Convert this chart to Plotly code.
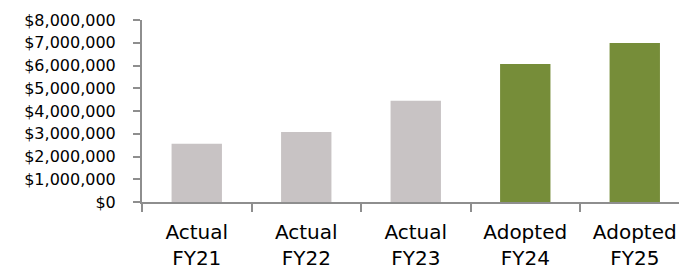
import plotly.graph_objects as go

categories = ["Actual<br>FY21", "Actual<br>FY22", "Actual<br>FY23", "Adopted<br>FY24", "Adopted<br>FY25"]
values = [2560000, 3080000, 4450000, 6070000, 6990000]
bar_colors = ["#C8C3C4", "#C8C3C4", "#C8C3C4", "#768D39", "#768D39"]
y_tick_vals = [0, 1000000, 2000000, 3000000, 4000000, 5000000, 6000000, 7000000, 8000000]
y_tick_text = ["$0", "$1,000,000", "$2,000,000", "$3,000,000", "$4,000,000",
               "$5,000,000", "$6,000,000", "$7,000,000", "$8,000,000"]

fig = go.Figure()
fig.add_trace(go.Bar(
    x=categories,
    y=values,
    marker=dict(color=bar_colors, line=dict(width=0)),
    width=0.46,
    hoverinfo="skip",
))

# page has an 8px body margin, so the figure is sized to fill the rest of the window
fig.update_layout(
    width=679, height=263,
    margin=dict(l=134, r=0, t=12, b=68.5),
    paper_bgcolor="white", plot_bgcolor="white",
    showlegend=False,
    font=dict(family="DejaVu Sans", color="#000000"),
)
fig.update_xaxes(
    type="category",
    range=[-0.5, 4.477],
    automargin=False,
    tickfont=dict(size=20, family="DejaVu Sans", color="#000000"),
    showgrid=False, zeroline=False,
    showline=True, linecolor="#8E8E8E", linewidth=2,
    ticks="outside", ticklen=8, tickwidth=2, tickcolor="#8E8E8E",
    tickson="boundaries",
    ticklabelstandoff=11,
)
fig.update_yaxes(
    range=[0, 8000000],
    automargin=False,
    tickmode="array",
    tickvals=y_tick_vals,
    ticktext=y_tick_text,
    tickfont=dict(size=16, family="DejaVu Sans", color="#000000"),
    showgrid=False, zeroline=False,
    showline=True, linecolor="#8E8E8E", linewidth=2,
    ticks="outside", ticklen=7, tickwidth=2, tickcolor="#8E8E8E",
    ticklabelstandoff=14,
)

fig.write_html("out.html")
